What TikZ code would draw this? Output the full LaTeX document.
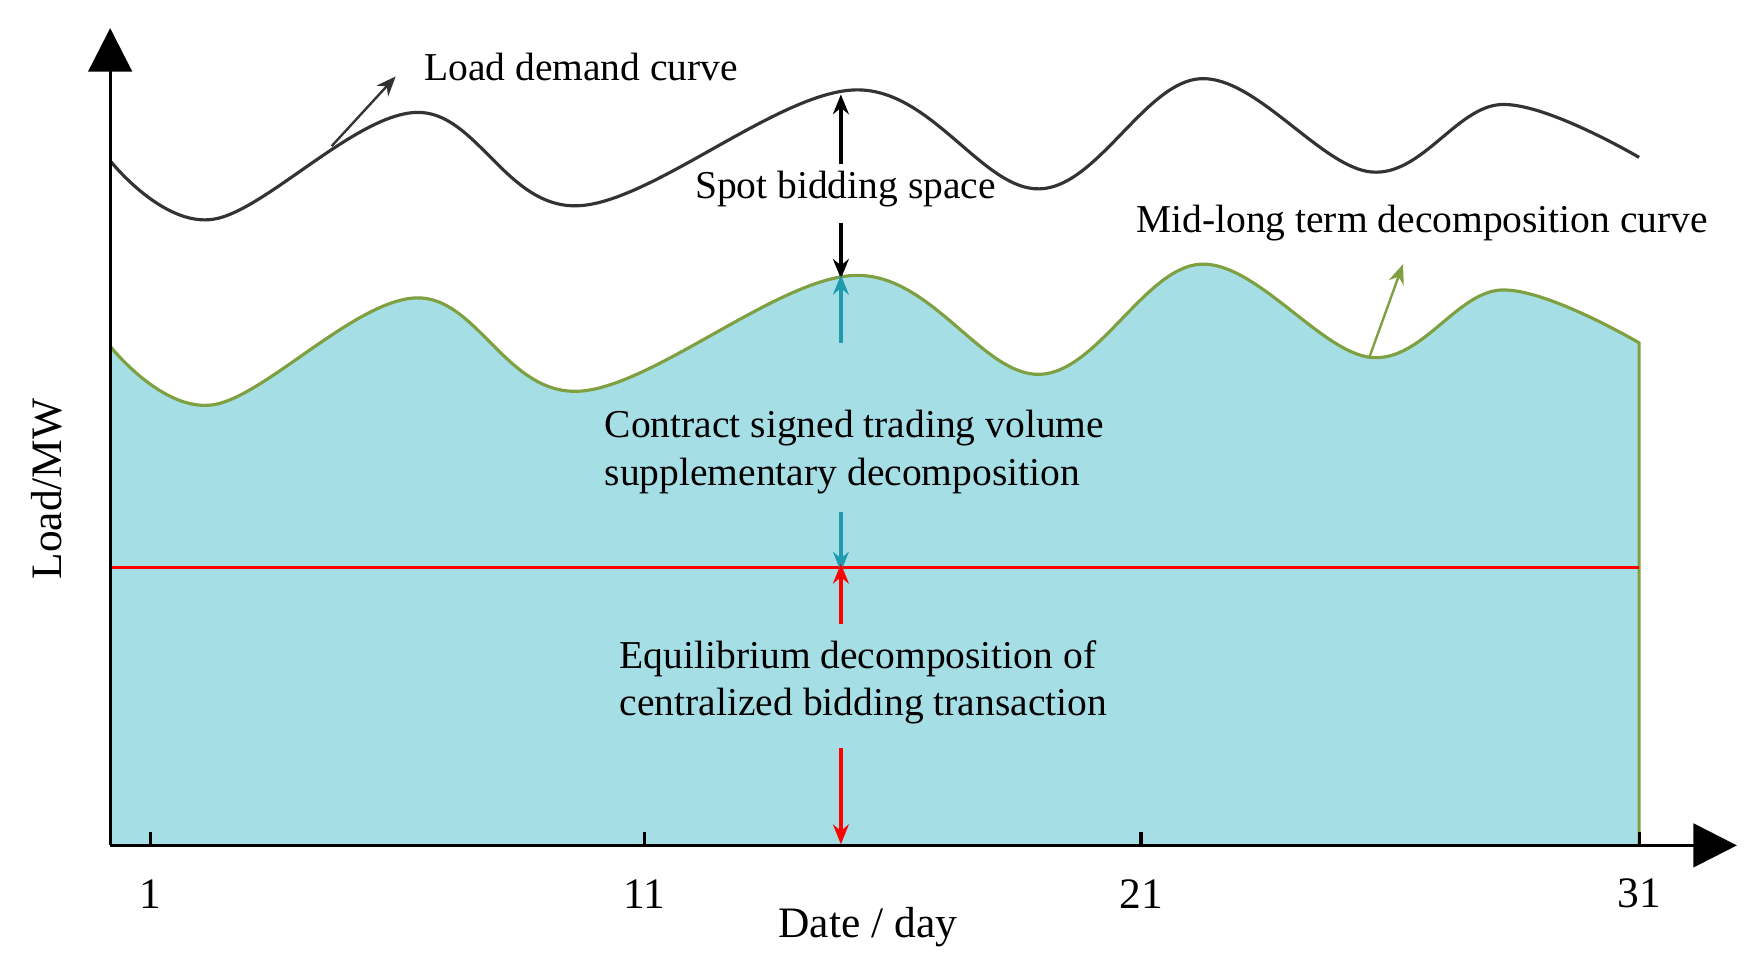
\documentclass[tikz,border=0pt]{standalone}
\usepackage{fontspec}
\setmainfont{Liberation Serif}
\usetikzlibrary{arrows.meta}
\definecolor{fillblue}{HTML}{A6DEE6}
\definecolor{curvegreen}{HTML}{7FA040}
\definecolor{teal}{HTML}{1F9BB0}
\tikzset{
	lbl/.style = {font=\fontsize{10}{12}\selectfont, inner sep=1pt},
	tip/.style = {-{Stealth[length=5pt,width=4pt]}, line width=0.9pt},
	axis/.style = {-{Triangle[length=11pt,width=11pt]}, line width=0.8pt}
}
\begin{document}
\begin{tikzpicture}[x=0.1mm, y=-0.1mm]
\useasboundingbox (0,0) rectangle (1562,857);

% CURVES
% mid-long term area
\fill [fillblue] (98,752) -- plot [smooth, tension=0.6] coordinates {(98,308) (190,360) (370,265) (515,348) (760,245) (925,333) (1068,235) (1220,318) (1335,258) (1458,305)} -- (1458,752) -- cycle;
\draw [curvegreen, line width=0.8pt] plot [smooth, tension=0.6] coordinates {(98,308) (190,360) (370,265) (515,348) (760,245) (925,333) (1068,235) (1220,318) (1335,258) (1458,305)} -- (1458,752);
% load demand
\draw [black!80, line width=0.8pt] plot [smooth, tension=0.6] coordinates {(98,143) (190,195) (370,100) (515,183) (760,80) (925,168) (1068,70) (1220,153) (1335,93) (1458,140)};
% equilibrium line
\draw [red, line width=0.8pt] (98,505) -- (1458,505);

% AXES
\coordinate (origin) at (98,752);
\coordinate (ytop) at (98,25);
\coordinate (xend) at (1545,752);
\draw [axis] (origin) -- (ytop);
\draw [axis] (origin) -- (xend);
\foreach \x/\d in {134/1, 573/11, 1015/21, 1458/31} {
	\draw [line width=0.8pt] (\x,752) -- (\x,740);
	\node (tick\d) [lbl, font=\fontsize{11}{13}\selectfont] at (\x,795) {\d};
}
\node (xlabel) [lbl, font=\fontsize{11}{13}\selectfont] at (772,825) {Date / day};
\node (ylabel) [lbl, font=\fontsize{11}{13}\selectfont, rotate=90] at (42,435) {Load/MW};

% LABELS
\node (loadlabel) [lbl] at (517,60) {Load demand curve};
\node (spotlabel) [lbl] at (752,168) {Spot bidding space};
\node (midlabel) [lbl] at (1265,198) {Mid-long term decomposition curve};
\node (contractlabel) [lbl, align=left] at (760,402) {Contract signed trading volume\\supplementary decomposition};
\node (equlabel) [lbl, align=left] at (768,607) {Equilibrium decomposition of\\centralized bidding transaction};

% CONNECTIONS
\coordinate (loadpt) at (295,130);
\coordinate (loadtip) at (352,68);
\coordinate (midpt) at (1218,318);
\coordinate (midtip) at (1248,235);
\coordinate (loadtop) at (748,84);
\coordinate (midtop) at (748,248);
\coordinate (redline) at (748,505);
\coordinate (xaxis) at (748,751);
\draw [tip, black!80, line width=0.6pt] (loadpt) -- (loadtip);
\draw [tip, curvegreen, line width=0.6pt] (midpt) -- (midtip);
\draw [tip] (spotlabel.north -| loadtop) ++(0,-2) -- (loadtop);
\draw [tip] (spotlabel.south -| loadtop) ++(0,10) -- (midtop);
\draw [tip, teal] (748,305) -- ([yshift=1pt]midtop);
\draw [tip, teal] (748,455) -- ([yshift=-1pt]redline);
\draw [tip, red] (748,555) -- ([yshift=1pt]redline);
\draw [tip, red] (748,665) -- (xaxis);
\end{tikzpicture}
\end{document}
